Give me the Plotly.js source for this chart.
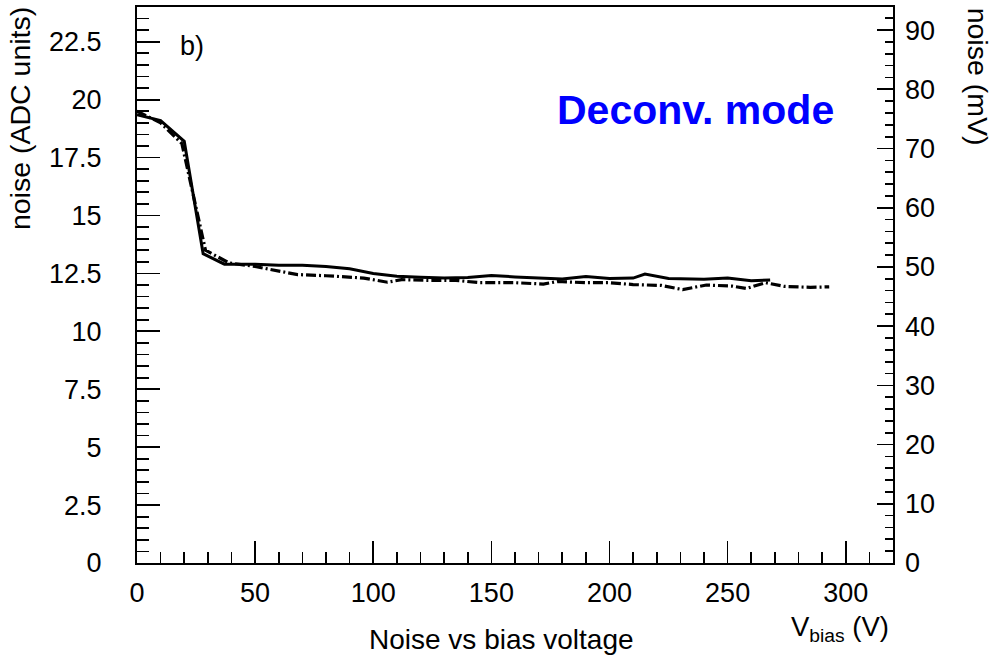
<!DOCTYPE html>
<html>
<head>
<meta charset="utf-8">
<script src="https://cdn.plot.ly/plotly-3.0.1.min.js"></script>
<style>html,body{margin:0;padding:0;background:#fff;}#chart{width:1000px;height:664px;}</style>
</head>
<body>
<div id="chart"></div>
<script>
// Solid curve (noise in ADC units vs bias voltage)
var solidV = [0, 10, 20, 28, 37, 50, 60, 70, 80, 90, 100, 110, 120, 130, 140, 150, 160, 170, 180, 190, 200, 210, 215, 225, 240, 250, 260, 268];
var solidN = [19.35, 19.1, 18.2, 13.35, 12.9, 12.9, 12.85, 12.85, 12.8, 12.7, 12.5, 12.38, 12.33, 12.3, 12.32, 12.41, 12.35, 12.3, 12.26, 12.37, 12.28, 12.3, 12.47, 12.28, 12.25, 12.3, 12.18, 12.22];
// Dash-dotted curve
var dashV = [0, 10, 19, 29, 39, 50, 57, 68, 80, 96, 106, 112, 124, 135, 145, 160, 172, 178, 190, 200, 210, 222, 231, 241, 252, 258, 266, 274, 285, 293];
var dashN = [19.5, 19.0, 18.1, 13.5, 12.95, 12.8, 12.66, 12.45, 12.4, 12.3, 12.12, 12.23, 12.2, 12.2, 12.1, 12.1, 12.04, 12.15, 12.1, 12.1, 12.02, 11.98, 11.8, 12.0, 11.95, 11.85, 12.1, 11.94, 11.9, 11.92];

var FONT = 'Liberation Sans, Arial, Helvetica, sans-serif';

var traces = [
  {x: solidV, y: solidN, type: 'scatter', mode: 'lines', line: {color: '#000', width: 3}, showlegend: false, hoverinfo: 'skip'},
  {x: dashV, y: dashN, type: 'scatter', mode: 'lines', line: {color: '#000', width: 3.2, dash: '10px,3px,2px,3px'}, showlegend: false, hoverinfo: 'skip'},
  {x: [null], y: [null], yaxis: 'y2', type: 'scatter', mode: 'lines', showlegend: false, hoverinfo: 'skip'}
];

var layout = {
  width: 1000, height: 664, autosize: false,
  margin: {l: 137, r: 107, t: 7, b: 101, pad: 0},
  paper_bgcolor: '#fff', plot_bgcolor: '#fff',
  font: {family: FONT, color: '#000', size: 27},
  showlegend: false,
  xaxis: {
    range: [0, 320], showgrid: false, zeroline: false,
    showline: true, linecolor: '#000', linewidth: 2, mirror: true,
    ticks: 'inside', ticklen: 22, tickwidth: 1.7, tickcolor: '#000', dtick: 50, tick0: 0,
    minor: {dtick: 10, ticks: 'inside', ticklen: 11, tickwidth: 1.7, tickcolor: '#000', showgrid: false},
    tickfont: {size: 27, family: FONT}, ticklabelstandoff: 5
  },
  yaxis: {
    range: [0, 24], showgrid: false, zeroline: false,
    showline: true, linecolor: '#000', linewidth: 2, mirror: true,
    ticks: 'inside', ticklen: 23, tickwidth: 1.7, tickcolor: '#000', dtick: 2.5, tick0: 0,
    minor: {dtick: 0.5, ticks: 'inside', ticklen: 12, tickwidth: 1.7, tickcolor: '#000', showgrid: false},
    tickfont: {size: 27, family: FONT}, ticklabelstandoff: 28
  },
  yaxis2: {
    overlaying: 'y', side: 'right', range: [0, 93.9], showgrid: false, zeroline: false,
    showline: false,
    ticks: 'inside', ticklen: 16, tickwidth: 1.7, tickcolor: '#000', dtick: 10, tick0: 0,
    minor: {dtick: 2, ticks: 'inside', ticklen: 8, tickwidth: 1.7, tickcolor: '#000', showgrid: false},
    tickfont: {size: 27, family: FONT}, ticklabelstandoff: 11
  },
  annotations: [
    {text: 'b)', xref: 'paper', yref: 'paper', x: 0.054, y: 0.929, xanchor: 'left', yanchor: 'middle', showarrow: false, font: {size: 27, family: FONT}},
    {text: '<b>Deconv. mode</b>', xref: 'paper', yref: 'paper', x: 0.7385, y: 0.815, xanchor: 'center', yanchor: 'middle', showarrow: false, font: {size: 41, family: FONT, color: '#0000ff'}},
    {text: 'Noise vs bias voltage', xref: 'paper', yref: 'paper', x: 0.482, y: -0.138, xanchor: 'center', yanchor: 'middle', showarrow: false, font: {size: 28, family: FONT}},
    {text: 'V<sub>bias</sub> (V)', xref: 'paper', yref: 'paper', x: 0.9975, y: -0.118, xanchor: 'right', yanchor: 'middle', showarrow: false, font: {size: 27.5, family: FONT}},
    {text: 'noise (ADC units)', xref: 'paper', yref: 'paper', x: -0.1544, y: 1.003, xanchor: 'center', yanchor: 'top', textangle: -90, showarrow: false, font: {size: 28.5, family: FONT}},
    {text: 'noise (mV)', xref: 'paper', yref: 'paper', x: 1.112, y: 1.003, xanchor: 'center', yanchor: 'top', textangle: 90, showarrow: false, font: {size: 28.5, family: FONT}}
  ]
};

Plotly.newPlot('chart', traces, layout, {displayModeBar: false, staticPlot: true});
</script>
</body>
</html>
